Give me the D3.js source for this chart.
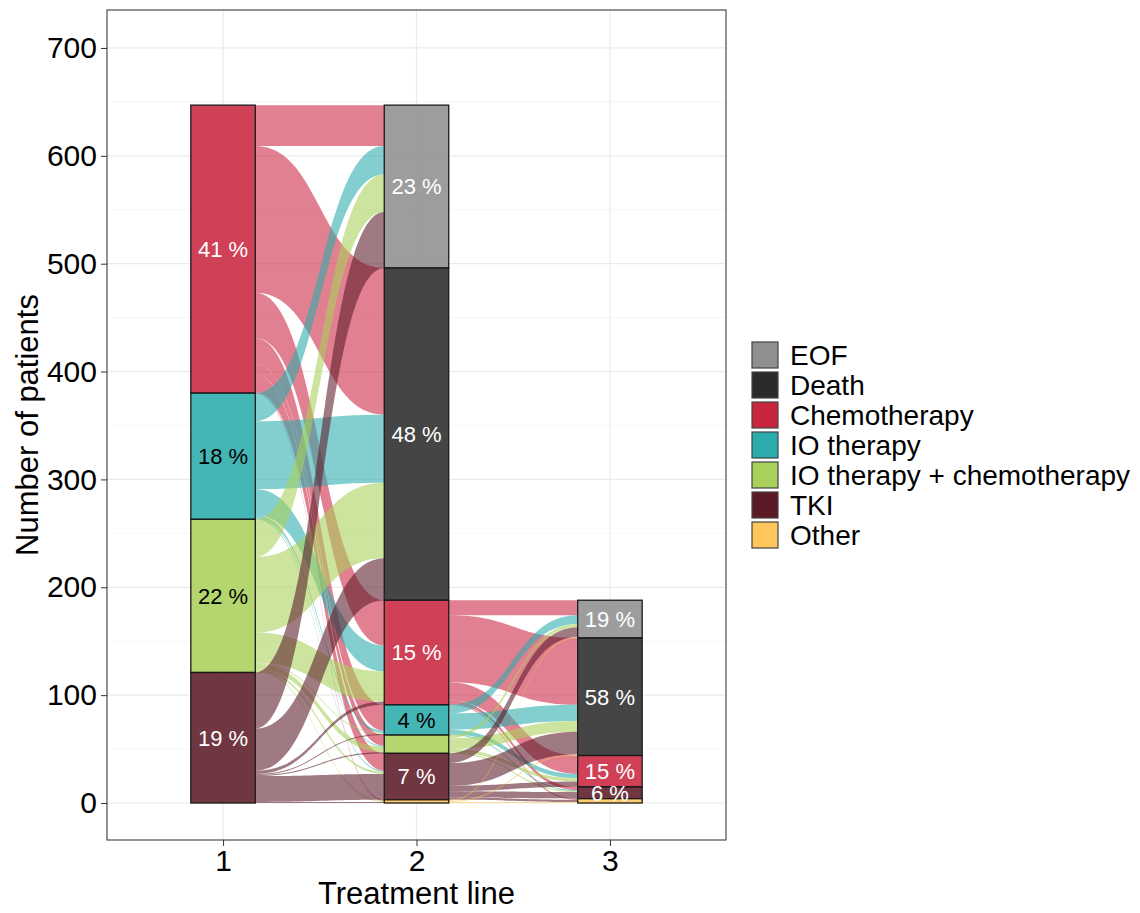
<!DOCTYPE html>
<html>
<head>
<meta charset="utf-8">
<script src="https://cdn.jsdelivr.net/npm/d3@7"></script>
<style>
  body { margin: 0; background: #fff; }
  svg { font-family: 'Liberation Sans', Arial, Helvetica, sans-serif; }
</style>
</head>
<body>
<div id="graf"></div>
<script>
// !DATOS
const lines = [1, 2, 3]
const categories = [
  'EOF',
  'Death',
  'Chemotherapy',
  'IO therapy',
  'IO therapy + chemotherapy',
  'TKI',
  'Other',
]
const yTicks = [0, 100, 200, 300, 400, 500, 600, 700]

// patients going from line 1 to line 2 (row = origin, column = destination)
const flows12 = [
  [0, 0, 0, 0, 0, 0, 0],
  [0, 0, 0, 0, 0, 0, 0],
  [38, 136, 42, 24, 10, 16, 1],
  [26, 63, 24, 2, 1, 1, 0],
  [35, 70, 28, 1, 5, 2, 1],
  [52, 39, 3, 1, 1, 24, 1],
  [0, 0, 0, 0, 0, 0, 0],
]

// patients going from line 2 to line 3
const flows23 = [
  [0, 0, 0, 0, 0, 0, 0],
  [0, 0, 0, 0, 0, 0, 0],
  [14, 62, 17, 0, 0, 3, 1],
  [8, 15, 4, 0, 0, 1, 0],
  [3, 10, 3, 0, 0, 1, 0],
  [9, 21, 5, 0, 0, 6, 2],
  [1, 1, 0, 0, 0, 0, 1],
]

// !ESTILOS
const colores = ['#8f8f8f', '#2b2b2b', '#c9253f', '#2aacac', '#a8d05a', '#5c1a27', '#ffc65c']
const tinta = ['#fff', '#fff', '#fff', '#000', '#000', '#fff', '#fff']

const anchoTotal = 1140
const altoTotal = 913
const panel = { left: 107, right: 726, top: 10, bottom: 840 }

const svg = d3
  .select('#graf')
  .append('svg')
  .attr('width', anchoTotal)
  .attr('height', altoTotal)

// !ESCALADORES
const x = d3.scaleLinear().domain([0.4, 3.6]).range([panel.left, panel.right])
const y = d3.scaleLinear().domain([-34.3, 735.2]).range([panel.bottom, panel.top])
const color = d3.scaleOrdinal().domain(categories).range(colores)
const ancho = 1 / 3

// strata per line: line 1 = row sums, others = column sums
const strata = [
  flows12.map((r) => d3.sum(r)),
  categories.map((c, j) => d3.sum(flows12, (r) => r[j])),
  categories.map((c, j) => d3.sum(flows23, (r) => r[j])),
]

// stack from the bottom, first category on top
const bloques = strata.map((vals, a) => {
  const total = d3.sum(vals)
  return vals.map((v, i) => {
    const bottom = d3.sum(vals.slice(i + 1))
    return { axis: lines[a], cat: i, v, bottom, top: bottom + v, total }
  })
})

// !REJILLA
const grid = svg.append('g')
d3.range(50, 700, 100).forEach((t) => {
  grid.append('line')
    .attr('x1', panel.left).attr('x2', panel.right)
    .attr('y1', y(t)).attr('y2', y(t))
    .attr('stroke', '#f2f2f2').attr('stroke-width', 0.7)
})
yTicks.forEach((t) => {
  grid.append('line')
    .attr('x1', panel.left).attr('x2', panel.right)
    .attr('y1', y(t)).attr('y2', y(t))
    .attr('stroke', '#ebebeb').attr('stroke-width', 1.2)
})
lines.forEach((t) => {
  grid.append('line')
    .attr('x1', x(t)).attr('x2', x(t))
    .attr('y1', panel.top).attr('y2', panel.bottom)
    .attr('stroke', '#ebebeb').attr('stroke-width', 1.2)
})

// !FLUJOS
function flujos(m, a) {
  const izq = bloques[a]
  const der = bloques[a + 1]
  const salida = izq.map((b) => b.top)
  const entrada = der.map((b) => b.top)
  const out = []
  // outgoing offsets ordered by destination
  m.forEach((row, i) => {
    row.forEach((v, j) => {
      if (!v) return
      const o = { i, j, v, y0: salida[i] }
      salida[i] -= v
      out.push(o)
    })
  })
  // incoming offsets ordered by origin
  categories.forEach((c, j) => {
    m.forEach((row, i) => {
      if (!row[j]) return
      const o = out.find((f) => f.i === i && f.j === j)
      o.y1 = entrada[j]
      entrada[j] -= row[j]
    })
  })
  const x0 = x(lines[a] + ancho / 2)
  const x1 = x(lines[a + 1] - ancho / 2)
  const xm = (x0 + x1) / 2
  svg.append('g')
    .selectAll('path')
    .data(out)
    .join('path')
    .attr('d', (f) => {
      const t0 = y(f.y0), b0 = y(f.y0 - f.v)
      const t1 = y(f.y1), b1 = y(f.y1 - f.v)
      return `M${x0},${t0}C${xm},${t0} ${xm},${t1} ${x1},${t1}` +
        `L${x1},${b1}C${xm},${b1} ${xm},${b0} ${x0},${b0}Z`
    })
    .attr('fill', (f) => color(categories[f.i]))
    .attr('fill-opacity', 0.58)
}
flujos(flows12, 0)
flujos(flows23, 1)

// !ESTRATOS
const estratos = svg.append('g')
bloques.flat().filter((b) => b.v > 0).forEach((b) => {
  estratos.append('rect')
    .attr('x', x(b.axis - ancho / 2))
    .attr('width', x(b.axis + ancho / 2) - x(b.axis - ancho / 2))
    .attr('y', y(b.top))
    .attr('height', y(b.bottom) - y(b.top))
    .attr('fill', color(categories[b.cat]))
    .attr('fill-opacity', 0.88)
    .attr('stroke', '#1a1a1a')
    .attr('stroke-width', 1.3)
})
bloques.flat().filter((b) => b.v / b.total >= 0.03).forEach((b) => {
  estratos.append('text')
    .attr('x', x(b.axis))
    .attr('y', y((b.top + b.bottom) / 2))
    .attr('dy', '0.36em')
    .attr('text-anchor', 'middle')
    .attr('font-size', 22)
    .attr('fill', tinta[b.cat])
    .text(`${Math.round((b.v / b.total) * 100)} %`)
})

// !EJES
svg.append('rect')
  .attr('x', panel.left).attr('y', panel.top)
  .attr('width', panel.right - panel.left)
  .attr('height', panel.bottom - panel.top)
  .attr('fill', 'none')
  .attr('stroke', '#4d4d4d')
  .attr('stroke-width', 1.2)

svg.append('g')
  .attr('transform', `translate(${panel.left}, 0)`)
  .call(d3.axisLeft(y).tickValues(yTicks).tickSize(6).tickPadding(4))
  .call((g) => g.select('.domain').remove())
  .call((g) => g.selectAll('line').attr('stroke', '#333'))
  .call((g) => g.selectAll('text')
    .attr('font-size', 30).attr('fill', '#000')
    .attr('font-family', "'Liberation Sans', Arial, sans-serif"))

svg.append('g')
  .attr('transform', `translate(0, ${panel.bottom})`)
  .call(d3.axisBottom(x).tickValues(lines).tickFormat(d3.format('d')).tickSize(6).tickPadding(4))
  .call((g) => g.select('.domain').remove())
  .call((g) => g.selectAll('line').attr('stroke', '#333'))
  .call((g) => g.selectAll('text')
    .attr('font-size', 30).attr('fill', '#000')
    .attr('font-family', "'Liberation Sans', Arial, sans-serif"))

svg.append('text')
  .attr('x', (panel.left + panel.right) / 2)
  .attr('y', 904)
  .attr('text-anchor', 'middle')
  .attr('font-size', 31)
  .text('Treatment line')

svg.append('text')
  .attr('transform', `translate(27, ${(panel.top + panel.bottom) / 2}) rotate(-90)`)
  .attr('dy', '0.36em')
  .attr('text-anchor', 'middle')
  .attr('font-size', 31)
  .text('Number of patients')

// !LEYENDA
const leyenda = svg.append('g').attr('transform', 'translate(752, 342)')
categories.forEach((c, i) => {
  leyenda.append('rect')
    .attr('x', 0).attr('y', i * 30)
    .attr('width', 26).attr('height', 26)
    .attr('fill', color(c))
    .attr('stroke', '#444')
    .attr('stroke-width', 1.2)
  leyenda.append('text')
    .attr('x', 38).attr('y', i * 30 + 13)
    .attr('dy', '0.36em')
    .attr('font-size', 28)
    .text(c)
})
</script>
</body>
</html>
